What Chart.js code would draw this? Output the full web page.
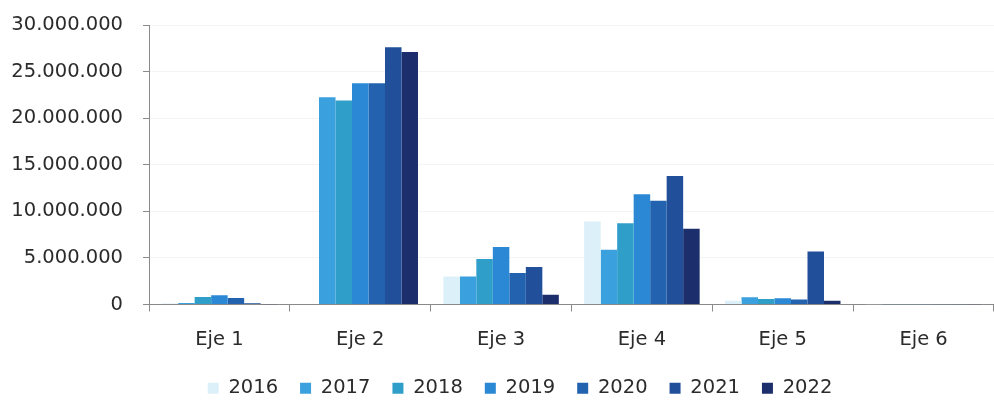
<!DOCTYPE html>
<html>
<head>
<meta charset="utf-8">
<script src="https://cdn.jsdelivr.net/npm/chart.js@4.4.1/dist/chart.umd.min.js"></script>
<style>
  html, body { margin: 0; padding: 0; background: #ffffff; }
  #wrap { width: 994px; height: 400px; }
</style>
</head>
<body>
<div id="wrap"><canvas id="c" width="994" height="400"></canvas></div>
<script>
const categories = ["Eje 1", "Eje 2", "Eje 3", "Eje 4", "Eje 5", "Eje 6"];
const years = ["2016", "2017", "2018", "2019", "2020", "2021", "2022"];
const v2016 = [100000, 0, 3000000, 8900000, 400000, 20000];
const v2017 = [150000, 22250000, 3000000, 5880000, 780000, 20000];
const v2018 = [810000, 21900000, 4880000, 8730000, 600000, 20000];
const v2019 = [1000000, 23750000, 6160000, 11830000, 670000, 20000];
const v2020 = [710000, 23750000, 3390000, 11140000, 540000, 20000];
const v2021 = [140000, 27600000, 4030000, 13780000, 5700000, 20000];
const v2022 = [20000, 27100000, 1040000, 8120000, 400000, 20000];
const yTicks = [0, 5000000, 10000000, 15000000, 20000000, 25000000, 30000000];

const seriesValues = [v2016, v2017, v2018, v2019, v2020, v2021, v2022];
const colors = ["#dcf0fa", "#3aa0de", "#2f9fca", "#2a88d4", "#2262ae", "#214f99", "#1c2f6c"];

const FONT = "'DejaVu Sans', sans-serif";
const TEXT = "#2b2b2b";

const legendShift = {
  id: "legendShift",
  afterLayout(chart) {
    if (chart.legend) { chart.legend.left += 23; chart.legend.right += 23; }
  }
};

new Chart(document.getElementById("c"), {
  type: "bar",
  data: {
    labels: categories,
    datasets: years.map((y, i) => ({
      label: y,
      data: seriesValues[i],
      backgroundColor: colors[i],
      borderWidth: 0,
      categoryPercentage: 0.82,
      barPercentage: 1.0
    }))
  },
  plugins: [legendShift],
  options: {
    responsive: false,
    animation: false,
    devicePixelRatio: 1,
    layout: { padding: { top: 25, right: 0, bottom: -8, left: 0 } },
    plugins: {
      tooltip: { enabled: false },
      legend: {
        position: "bottom",
        labels: {
          color: TEXT,
          font: { family: FONT, size: 19.5 },
          boxWidth: 11,
          boxHeight: 11,
          padding: 22
        }
      }
    },
    scales: {
      x: {
        grid: {
          display: true,
          drawOnChartArea: false,
          drawTicks: true,
          tickLength: 7,
          tickColor: "#8a8a8a",
          offset: true
        },
        border: { display: true, color: "#8a8a8a", width: 1 },
        ticks: {
          color: TEXT,
          font: { family: FONT, size: 19.5 },
          padding: 17
        },
        afterFit: (s) => { s.height = 52; s.paddingLeft = 0; s.paddingRight = 0; }
      },
      y: {
        min: 0,
        max: 30000000,
        afterBuildTicks: (s) => { s.ticks = yTicks.map(v => ({ value: v })); },
        grid: {
          color: "rgba(0,0,0,0.045)",
          tickColor: "#8a8a8a",
          tickLength: 6,
          drawTicks: true
        },
        border: { display: true, color: "#8a8a8a", width: 1 },
        ticks: {
          color: TEXT,
          font: { family: FONT, size: 19.5 },
          padding: 20,
          callback: (v) => String(Math.round(v)).replace(/\B(?=(\d{3})+(?!\d))/g, ".")
        },
        afterFit: (s) => { s.width = 149; s.paddingTop = 0; s.paddingBottom = 0; }
      }
    }
  }
});
</script>
</body>
</html>
